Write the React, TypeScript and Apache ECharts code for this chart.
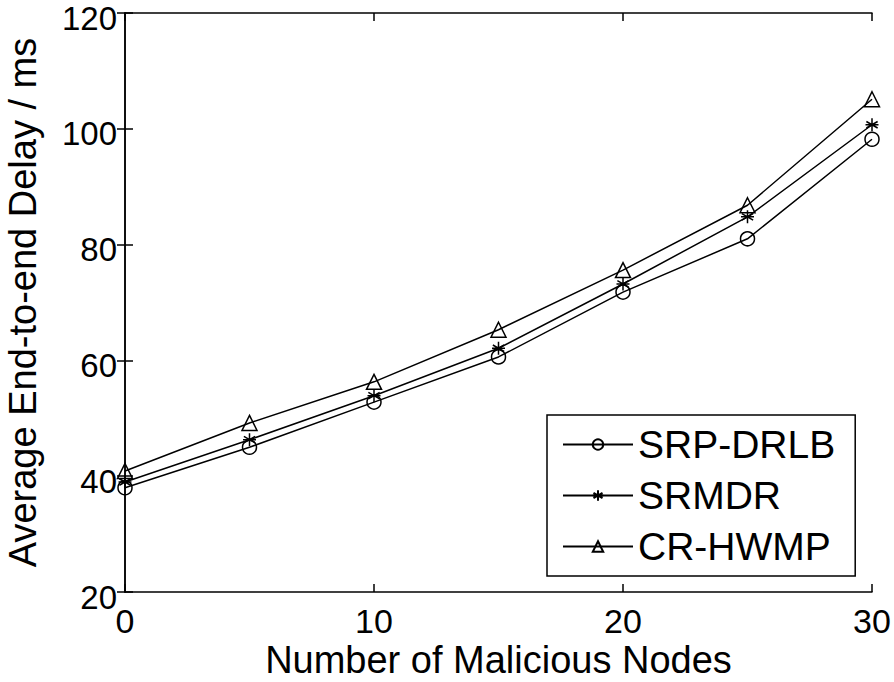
import React, { useEffect, useRef } from "react";
import * as echarts from "echarts";

const xValues = [0, 5, 10, 15, 20, 25, 30];
const srpDrlb = [38.0, 45.0, 52.8, 60.6, 71.8, 81.0, 98.2];
const srmdr = [39.0, 46.3, 53.9, 62.1, 73.2, 84.8, 100.7];
const crHwmp = [40.9, 49.2, 56.3, 65.3, 75.6, 86.8, 105.1];
const seriesNames = ["SRP-DRLB", "SRMDR", "CR-HWMP"];

const FONT = "Liberation Sans, Arial, Helvetica, sans-serif";
const STAR = "path://M0,-10L0,10M-8.66,-5L8.66,5M-8.66,5L8.66,-5M-10,0L10,0";

export default function App() {
  const ref = useRef<HTMLDivElement>(null);
  useEffect(() => {
    if (!ref.current) return;
    const chart = echarts.init(ref.current, null, { renderer: "svg" });
    const pair = (arr: number[]) => xValues.map((x, i) => [x, arr[i]]);
    const mk = (name: string, data: number[], symbol: string, size: number) => ({
      name,
      type: "line",
      data: pair(data),
      symbol,
      symbolSize: size,
      showAllSymbol: true,
      lineStyle: { color: "#000", width: 1.5 },
      itemStyle: { color: "rgba(255,255,255,0)", borderColor: "#000", borderWidth: 1.5 },
      emphasis: { disabled: true },
    });
    const axisCommon = {
      type: "value",
      axisLine: { show: true, lineStyle: { color: "#000", width: 1.5 } },
      axisTick: { show: true, inside: true, length: 8, lineStyle: { color: "#000", width: 1.5 } },
      splitLine: { show: false },
    };
    chart.setOption({
      animation: false,
      backgroundColor: "#fff",
      grid: { left: 125, right: 22, top: 13, bottom: 90, containLabel: false, outerBoundsMode: "none" },
      xAxis: [
        {
          ...axisCommon,
          position: "bottom",
          min: 0,
          max: 30,
          interval: 10,
          name: "Number of Malicious Nodes",
          nameLocation: "middle",
          nameMoveOverlap: false,
          nameGap: 49,
          nameTextStyle: { fontFamily: FONT, fontSize: 38, lineHeight: 38, color: "#000" },
          axisLabel: {
            fontFamily: FONT,
            fontSize: 34,
            lineHeight: 24,
            verticalAlign: "top",
            color: "#000",
            margin: 17,
          },
        },
        {
          ...axisCommon,
          position: "top",
          min: 0,
          max: 30,
          interval: 10,
          axisLabel: { show: false },
        },
      ],
      yAxis: [
        {
          ...axisCommon,
          position: "left",
          min: 20,
          max: 120,
          interval: 20,
          name: "Average End-to-end Delay / ms",
          nameLocation: "middle",
          nameMoveOverlap: false,
          nameRotate: 90,
          nameGap: 85,
          nameTextStyle: { fontFamily: FONT, fontSize: 38, lineHeight: 34, color: "#000" },
          axisLabel: {
            fontFamily: FONT,
            fontSize: 33,
            lineHeight: 10,
            verticalAlign: "top",
            color: "#000",
            margin: 8,
          },
        },
        {
          ...axisCommon,
          position: "right",
          min: 20,
          max: 120,
          interval: 20,
          axisLabel: { show: false },
        },
      ],
      legend: {
        orient: "vertical",
        left: 547,
        top: 415,
        backgroundColor: "#fff",
        borderColor: "#000",
        borderWidth: 1.5,
        padding: [4, 20, 4, 15],
        itemGap: 0,
        itemWidth: 70,
        itemHeight: 13,
        textStyle: { fontFamily: FONT, fontSize: 39, color: "#000", lineHeight: 51 },
        data: seriesNames,
      },
      series: [
        mk(seriesNames[0], srpDrlb, "circle", 14),
        mk(seriesNames[1], srmdr, STAR, 13),
        mk(seriesNames[2], crHwmp, "triangle", 15),
      ],
    });
    return () => chart.dispose();
  }, []);
  return (
    <div
      ref={ref}
      style={{ position: "fixed", left: 0, top: 0, width: 894, height: 682, background: "#fff" }}
    />
  );
}
